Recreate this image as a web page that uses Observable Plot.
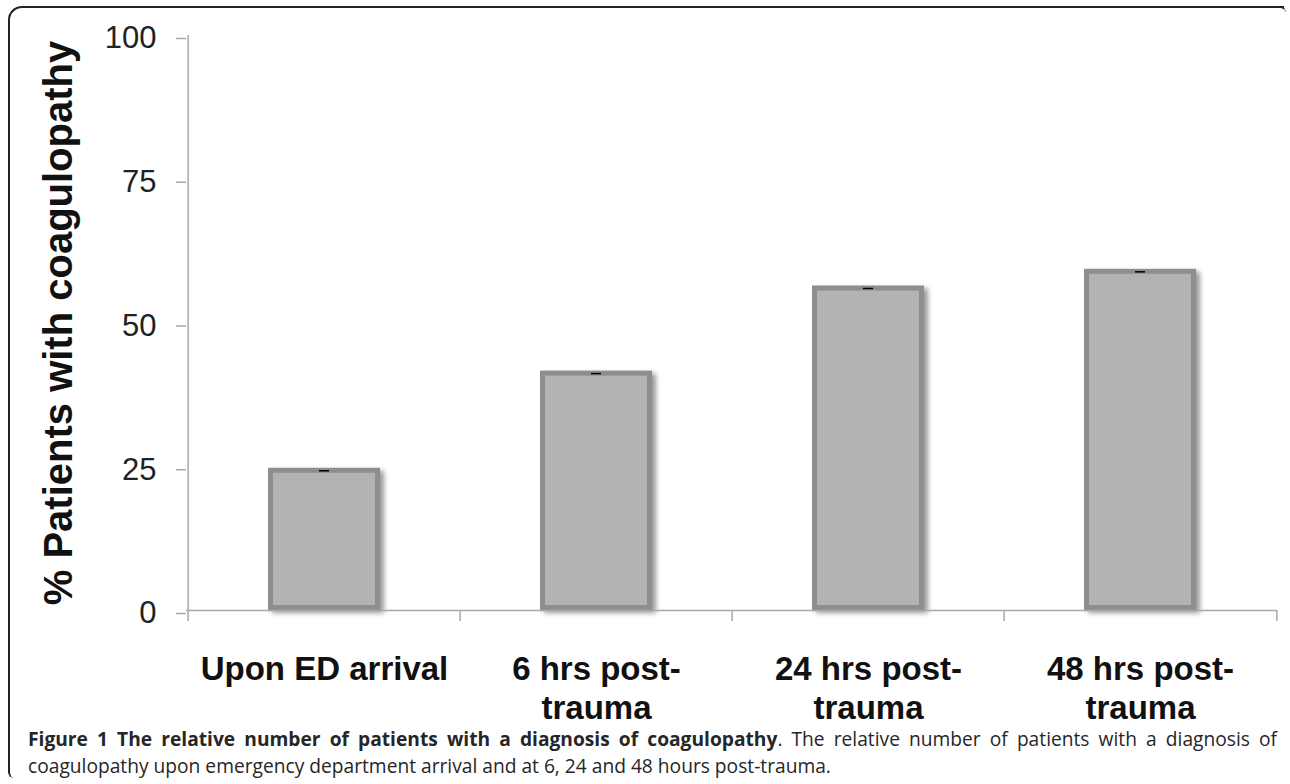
<!DOCTYPE html>
<html><head><meta charset="utf-8">
<script src="https://cdn.jsdelivr.net/npm/d3@7"></script>
<script src="https://cdn.jsdelivr.net/npm/@observablehq/plot@0.6"></script>
<style>
body{margin:0;background:#fff;width:1290px;height:784px;overflow:hidden;position:relative}
#frame{position:absolute;left:8px;top:6px;width:1276px;height:772px;border-top:2px solid #222;border-left:2px solid #222;border-top-left-radius:14px;border-bottom-left-radius:6px;box-sizing:border-box}
#corner{position:absolute;left:1276px;top:6px;width:10px;height:6px;border-top:2px solid #222;border-right:1.5px solid #999;border-top-right-radius:8px;box-sizing:border-box}
#chart{position:absolute;left:0;top:0}
.cap{position:absolute;left:28px;width:1249px;font-family:"Open Sans",sans-serif;font-size:19.2px;line-height:27px;color:#262626;white-space:nowrap}
#cap1{top:725px;text-align:justify;text-align-last:justify;white-space:normal}
#cap2{top:752px}
</style></head>
<body>
<div id="frame"></div>
<div id="corner"></div>
<div id="chart"></div>
<div id="cap1" class="cap"><b>Figure 1 The relative number of patients with a diagnosis of coagulopathy</b>. The relative number of patients with a diagnosis of</div>
<div id="cap2" class="cap">coagulopathy upon emergency department arrival and at 6, 24 and 48 hours post-trauma.</div>
<script>
const categories = ["Upon ED arrival", "6 hrs post-trauma", "24 hrs post-trauma", "48 hrs post-trauma"];
const tickLabels = ["Upon ED arrival", "6 hrs post-\ntrauma", "24 hrs post-\ntrauma", "48 hrs post-\ntrauma"];
const percentValues = [24.3, 41.2, 56.0, 58.9];
const yTicks = [0, 25, 50, 75, 100];
const yLabel = "% Patients with coagulopathy";

const data = categories.map((c, i) => ({category: c, label: tickLabels[i], value: percentValues[i]}));

const W = 1290, H = 725, mL = 186, mR = 13, mT = 35, mB = 115;
const step = (W - mL - mR) / categories.length;
const axisGray = "#a8a8a8";

const chart = Plot.plot({
  width: W, height: H,
  marginLeft: mL, marginRight: mR, marginTop: mT, marginBottom: mB,
  style: {fontFamily: "Liberation Sans, Arial, sans-serif", background: "transparent", overflow: "visible", color: "#222"},
  x: {type: "band", domain: categories, paddingInner: 0.59, paddingOuter: 0.295, axis: null},
  y: {domain: [0, 100], axis: null},
  marks: [
    Plot.barY(data, {x: "category", y: "value", fill: "#b3b3b3", stroke: "#8e8e8e", strokeWidth: 5, insetLeft: 2.5, insetRight: 2.5, insetBottom: 2.5}),
    Plot.tickY(data, {x: "category", y: "value", stroke: "#000", strokeWidth: 1.5, insetLeft: 51, insetRight: 51}),
    Plot.ruleY([0], {stroke: axisGray, strokeWidth: 1.5}),
    Plot.ruleX(categories, {x: d => d, dx: -step / 2, y1: -1.9, y2: (d, i) => i === 0 ? 100 : 0, stroke: axisGray, strokeWidth: 1.5}),
    Plot.ruleX([categories[categories.length - 1]], {x: d => d, dx: step / 2, y1: -1.9, y2: 0, stroke: axisGray, strokeWidth: 1.5}),
    Plot.axisY({ticks: yTicks, tickSize: 10, tickPadding: 20, fontSize: 31, stroke: axisGray, strokeWidth: 1.5, fill: "#222", color: "#222", label: null, dy: 3}),
    Plot.text([yLabel], {frameAnchor: "left", text: d => d, rotate: -90, dx: -127, textAnchor: "middle", fontSize: 40, fontWeight: "bold", fill: "#111"}),
    Plot.text(data, {x: "category", y: 0, text: "label", lineAnchor: "top", dy: 42, fontSize: 33, fontWeight: "bold", lineHeight: 1.18, fill: "#111"})
  ]
});

const ns = "http://www.w3.org/2000/svg";
const defs = document.createElementNS(ns, "defs");
defs.innerHTML = '<filter id="barShadow" x="-20%" y="-10%" width="140%" height="120%"><feDropShadow dx="4" dy="3" stdDeviation="2.5" flood-color="#000" flood-opacity="0.4"/></filter>';
chart.insertBefore(defs, chart.firstChild);
const barG = chart.querySelector('g[aria-label="bar"]');
if (barG) barG.setAttribute("filter", "url(#barShadow)");
document.getElementById("chart").appendChild(chart);
</script>
</body></html>
